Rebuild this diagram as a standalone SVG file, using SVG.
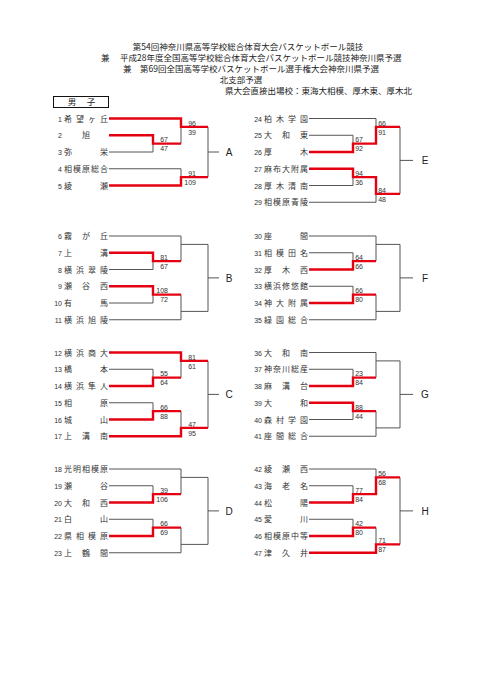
<svg xmlns="http://www.w3.org/2000/svg" width="481" height="680" viewBox="0 0 481 680">
<style>
.h{font-family:"Noto Sans CJK JP","Noto Sans CJK SC",sans-serif;font-size:8.5px;fill:#222}
.n{font-family:"Noto Sans CJK JP","Noto Sans CJK SC",sans-serif;font-size:8px;fill:#333;text-anchor:middle}
.num{font-family:"Liberation Sans",Arial,sans-serif;font-size:7px;fill:#333;text-anchor:end}
.s{font-family:"Liberation Sans",Arial,sans-serif;font-size:7px;fill:#333;text-anchor:end}
.lb{font-family:"Liberation Sans",Arial,sans-serif;font-size:10px;fill:#222;text-anchor:middle}
.g{stroke:#555;stroke-width:1;fill:none}
.r{stroke:#e50012;stroke-width:2.4;fill:none}
</style>
<rect width="481" height="680" fill="#fff"/>
<g id="header">
<text class="h" x="248" y="50" text-anchor="middle">第54回神奈川県高等学校総合体育大会バスケットボール競技</text>
<text class="h" x="101" y="61">兼</text>
<text class="h" x="120" y="61">平成28年度全国高等学校総合体育大会バスケットボール競技神奈川県予選</text>
<text class="h" x="123" y="72">兼</text>
<text class="h" x="140" y="72">第69回全国高等学校バスケットボール選手権大会神奈川県予選</text>
<text class="h" x="241" y="82.6" text-anchor="middle">北支部予選</text>
<text class="h" x="412" y="94" text-anchor="end">県大会直接出場校：東海大相模、厚木東、厚木北</text>
</g>
<g id="section-boys">
<rect x="53.5" y="96.5" width="55" height="11" fill="none" stroke="#111" stroke-width="1"/>
<text class="h" x="72" y="105" text-anchor="middle">男</text>
<text class="h" x="91" y="105" text-anchor="middle">子</text>
</g>
<g id="connectors">
<path class="g" d="M109 152H153M153 135.25V152M181 118.5V143.6M109 168.75H181M181 168.75V185.5M208 126.9V177.1M208 152H219"/>
<path class="g" d="M109 236H181M109 269.5H153M153 252.75V269.5M181 236V261.1M181 244.4H208M109 303H153M153 286.25V303M109 319.75H181M181 294.6V319.75M181 311.4H208M208 244.4V311.4M208 277.9H219"/>
<path class="g" d="M109 369.25H153M153 369.25V386M181 352.5V377.6M109 402.75H153M153 402.75V419.5M181 411.1V436.25M208 360.9V427.9M208 394.4H219"/>
<path class="g" d="M109 469H181M109 485.75H153M153 485.75V502.5M181 469V494.1M181 477.4H208M109 519.25H153M153 519.25V536M109 552.75H181M181 527.6V552.75M181 544.4H208M208 477.4V544.4M208 510.9H219"/>
<path class="g" d="M309 118.5H376M309 135.25H353M353 135.25V152M376 118.5V143.6M309 185.5H353M353 168.75V185.5M309 202.25H376M376 177.1V202.25M400 126.9V193.9M400 160.4H413"/>
<path class="g" d="M309 236H376M309 252.75H353M353 252.75V269.5M376 236V261.1M376 244.4H400M309 286.25H353M353 286.25V303M309 319.75H376M376 294.6V319.75M376 311.4H400M400 244.4V311.4M400 277.9H413"/>
<path class="g" d="M309 352.5H376M309 369.25H353M353 369.25V386M376 352.5V377.6M376 360.9H400M309 419.5H353M353 402.75V419.5M309 436.25H376M376 411.1V436.25M376 427.9H400M400 360.9V427.9M400 394.4H413"/>
<path class="g" d="M309 469H376M309 485.75H353M353 485.75V502.5M376 469V494.1M309 519.25H353M353 519.25V536M376 527.6V552.75M400 477.4V544.4M400 510.9H413"/>
<path class="r" d="M109 118.5H181V126.9H208M109 135.25H153V143.6H181M109 185.5H181V177.1H208"/>
<path class="r" d="M109 252.75H153V261.1H181M109 286.25H153V294.6H181"/>
<path class="r" d="M109 352.5H181V360.9H208M109 386H153V377.6H181M109 419.5H153V411.1H181M109 436.25H181V427.9H208"/>
<path class="r" d="M109 502.5H153V494.1H181M109 536H153V527.6H181"/>
<path class="r" d="M309 152H353V143.6H376V126.9H400M309 168.75H353V177.1H376V193.9H400"/>
<path class="r" d="M309 269.5H353V261.1H376M309 303H353V294.6H376"/>
<path class="r" d="M309 386H353V377.6H376M309 402.75H353V411.1H376"/>
<path class="r" d="M309 502.5H353V494.1H376V477.4H400M309 536H353V527.6H376M309 552.75H376V544.4H400"/>
</g>
<g id="scores">
<text class="s" x="168" y="142.4">67</text><text class="s" x="168" y="151.2">47</text>
<text class="s" x="196" y="125.7">96</text><text class="s" x="196" y="134.5">39</text>
<text class="s" x="196" y="175.9">91</text><text class="s" x="196" y="184.7">109</text>
<text class="s" x="168" y="259.9">81</text><text class="s" x="168" y="268.7">67</text>
<text class="s" x="168" y="293.4">108</text><text class="s" x="168" y="302.2">72</text>
<text class="s" x="196" y="359.7">81</text><text class="s" x="196" y="368.5">61</text>
<text class="s" x="168" y="376.4">55</text><text class="s" x="168" y="385.2">64</text>
<text class="s" x="168" y="409.9">66</text><text class="s" x="168" y="418.7">88</text>
<text class="s" x="196" y="426.7">47</text><text class="s" x="196" y="435.5">95</text>
<text class="s" x="168" y="492.9">39</text><text class="s" x="168" y="501.7">106</text>
<text class="s" x="168" y="526.4">66</text><text class="s" x="168" y="535.2">69</text>
<text class="s" x="386" y="125.7">66</text><text class="s" x="386" y="134.5">91</text>
<text class="s" x="363" y="142.4">67</text><text class="s" x="363" y="151.2">92</text>
<text class="s" x="363" y="175.9">94</text><text class="s" x="363" y="184.7">36</text>
<text class="s" x="386" y="192.7">84</text><text class="s" x="386" y="201.5">48</text>
<text class="s" x="363" y="259.9">64</text><text class="s" x="363" y="268.7">66</text>
<text class="s" x="363" y="293.4">66</text><text class="s" x="363" y="302.2">80</text>
<text class="s" x="363" y="376.4">23</text><text class="s" x="363" y="385.2">84</text>
<text class="s" x="363" y="409.9">88</text><text class="s" x="363" y="418.7">44</text>
<text class="s" x="386" y="476.2">56</text><text class="s" x="386" y="485">68</text>
<text class="s" x="363" y="492.9">77</text><text class="s" x="363" y="501.7">84</text>
<text class="s" x="363" y="526.4">42</text><text class="s" x="363" y="535.2">80</text>
<text class="s" x="386" y="543.2">71</text><text class="s" x="386" y="552">87</text>
</g>
<g id="t1"><text class="num" x="62" y="121.5">1</text><text class="n" x="68 80 92 104" y="121.5">希望ヶ丘</text></g>
<g id="t2"><text class="num" x="62" y="138.25">2</text><text class="n" x="86" y="138.25">旭</text></g>
<g id="t3"><text class="num" x="62" y="155">3</text><text class="n" x="68 104" y="155">弥栄</text></g>
<g id="t4"><text class="num" x="62" y="171.75">4</text><text class="n" x="68 77 86 95 104" y="171.75">相模原総合</text></g>
<g id="t5"><text class="num" x="62" y="188.5">5</text><text class="n" x="68 104" y="188.5">綾瀬</text></g>
<g id="t6"><text class="num" x="62" y="239">6</text><text class="n" x="68 86 104" y="239">霧が丘</text></g>
<g id="t7"><text class="num" x="62" y="255.75">7</text><text class="n" x="68 104" y="255.75">上溝</text></g>
<g id="t8"><text class="num" x="62" y="272.5">8</text><text class="n" x="68 80 92 104" y="272.5">横浜翠陵</text></g>
<g id="t9"><text class="num" x="62" y="289.25">9</text><text class="n" x="68 86 104" y="289.25">瀬谷西</text></g>
<g id="t10"><text class="num" x="62" y="306">10</text><text class="n" x="68 104" y="306">有馬</text></g>
<g id="t11"><text class="num" x="62" y="322.75">11</text><text class="n" x="68 80 92 104" y="322.75">横浜旭陵</text></g>
<g id="t12"><text class="num" x="62" y="355.5">12</text><text class="n" x="68 80 92 104" y="355.5">横浜商大</text></g>
<g id="t13"><text class="num" x="62" y="372.25">13</text><text class="n" x="68 104" y="372.25">橋本</text></g>
<g id="t14"><text class="num" x="62" y="389">14</text><text class="n" x="68 80 92 104" y="389">横浜隼人</text></g>
<g id="t15"><text class="num" x="62" y="405.75">15</text><text class="n" x="68 104" y="405.75">相原</text></g>
<g id="t16"><text class="num" x="62" y="422.5">16</text><text class="n" x="68 104" y="422.5">城山</text></g>
<g id="t17"><text class="num" x="62" y="439.25">17</text><text class="n" x="68 86 104" y="439.25">上溝南</text></g>
<g id="t18"><text class="num" x="62" y="472">18</text><text class="n" x="68 77 86 95 104" y="472">光明相模原</text></g>
<g id="t19"><text class="num" x="62" y="488.75">19</text><text class="n" x="68 104" y="488.75">瀬谷</text></g>
<g id="t20"><text class="num" x="62" y="505.5">20</text><text class="n" x="68 86 104" y="505.5">大和西</text></g>
<g id="t21"><text class="num" x="62" y="522.25">21</text><text class="n" x="68 104" y="522.25">白山</text></g>
<g id="t22"><text class="num" x="62" y="539">22</text><text class="n" x="68 80 92 104" y="539">県相模原</text></g>
<g id="t23"><text class="num" x="62" y="555.75">23</text><text class="n" x="68 86 104" y="555.75">上鶴間</text></g>
<g id="t24"><text class="num" x="262" y="121.5">24</text><text class="n" x="268 280 292 304" y="121.5">柏木学園</text></g>
<g id="t25"><text class="num" x="262" y="138.25">25</text><text class="n" x="268 286 304" y="138.25">大和東</text></g>
<g id="t26"><text class="num" x="262" y="155">26</text><text class="n" x="268 304" y="155">厚木</text></g>
<g id="t27"><text class="num" x="262" y="171.75">27</text><text class="n" x="268 277 286 295 304" y="171.75">麻布大附属</text></g>
<g id="t28"><text class="num" x="262" y="188.5">28</text><text class="n" x="268 280 292 304" y="188.5">厚木清南</text></g>
<g id="t29"><text class="num" x="262" y="205.25">29</text><text class="n" x="268 277 286 295 304" y="205.25">相模原青陵</text></g>
<g id="t30"><text class="num" x="262" y="239">30</text><text class="n" x="268 304" y="239">座間</text></g>
<g id="t31"><text class="num" x="262" y="255.75">31</text><text class="n" x="268 280 292 304" y="255.75">相模田名</text></g>
<g id="t32"><text class="num" x="262" y="272.5">32</text><text class="n" x="268 286 304" y="272.5">厚木西</text></g>
<g id="t33"><text class="num" x="262" y="289.25">33</text><text class="n" x="268 277 286 295 304" y="289.25">横浜修悠館</text></g>
<g id="t34"><text class="num" x="262" y="306">34</text><text class="n" x="268 280 292 304" y="306">神大附属</text></g>
<g id="t35"><text class="num" x="262" y="322.75">35</text><text class="n" x="268 280 292 304" y="322.75">緑園総合</text></g>
<g id="t36"><text class="num" x="262" y="355.5">36</text><text class="n" x="268 286 304" y="355.5">大和南</text></g>
<g id="t37"><text class="num" x="262" y="372.25">37</text><text class="n" x="268 277 286 295 304" y="372.25">神奈川総産</text></g>
<g id="t38"><text class="num" x="262" y="389">38</text><text class="n" x="268 286 304" y="389">麻溝台</text></g>
<g id="t39"><text class="num" x="262" y="405.75">39</text><text class="n" x="268 304" y="405.75">大和</text></g>
<g id="t40"><text class="num" x="262" y="422.5">40</text><text class="n" x="268 280 292 304" y="422.5">森村学園</text></g>
<g id="t41"><text class="num" x="262" y="439.25">41</text><text class="n" x="268 280 292 304" y="439.25">座間総合</text></g>
<g id="t42"><text class="num" x="262" y="472">42</text><text class="n" x="268 286 304" y="472">綾瀬西</text></g>
<g id="t43"><text class="num" x="262" y="488.75">43</text><text class="n" x="268 286 304" y="488.75">海老名</text></g>
<g id="t44"><text class="num" x="262" y="505.5">44</text><text class="n" x="268 304" y="505.5">松陽</text></g>
<g id="t45"><text class="num" x="262" y="522.25">45</text><text class="n" x="268 304" y="522.25">愛川</text></g>
<g id="t46"><text class="num" x="262" y="539">46</text><text class="n" x="268 277 286 295 304" y="539">相模原中等</text></g>
<g id="t47"><text class="num" x="262" y="555.75">47</text><text class="n" x="268 286 304" y="555.75">津久井</text></g>
<g id="block-A"><text class="lb" x="229" y="155.6">A</text></g>
<g id="block-B"><text class="lb" x="229" y="281.5">B</text></g>
<g id="block-C"><text class="lb" x="229" y="398">C</text></g>
<g id="block-D"><text class="lb" x="229" y="514.5">D</text></g>
<g id="block-E"><text class="lb" x="425" y="164">E</text></g>
<g id="block-F"><text class="lb" x="425" y="281.5">F</text></g>
<g id="block-G"><text class="lb" x="425" y="398">G</text></g>
<g id="block-H"><text class="lb" x="425" y="514.5">H</text></g>
</svg>
